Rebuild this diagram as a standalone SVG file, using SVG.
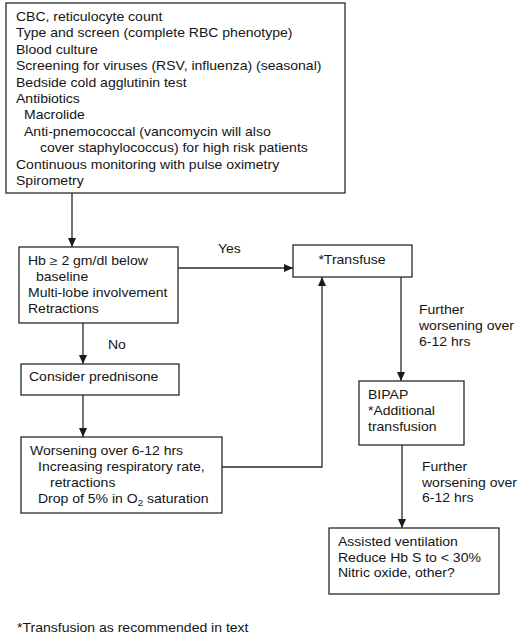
<svg xmlns="http://www.w3.org/2000/svg" width="520" height="639" viewBox="0 0 520 639">
<style>
  .box { fill: #ffffff; stroke: #2a2a2a; stroke-width: 1.3; }
  .t { font-family: "Liberation Sans", Arial, sans-serif; font-size: 12.2px; fill: #151515; }
  .conn { fill: none; stroke: #2a2a2a; stroke-width: 1.3; }
</style>
<defs>
  <marker id="arr" markerUnits="userSpaceOnUse" markerWidth="9" markerHeight="8" refX="9" refY="4" orient="auto">
    <path d="M0,0 L9,4 L0,8 z" fill="#1a1a1a"/>
  </marker>
</defs>
<rect width="520" height="639" fill="#ffffff"/>

<g id="connectors">
  <path class="conn" d="M72 193 V247" marker-end="url(#arr)"/>
  <path class="conn" d="M178 268 H293" marker-end="url(#arr)"/>
  <path class="conn" d="M83 323 V364" marker-end="url(#arr)"/>
  <path class="conn" d="M83 395 V437" marker-end="url(#arr)"/>
  <path class="conn" d="M222 467 H322 V277" marker-end="url(#arr)"/>
  <path class="conn" d="M401 277 V381" marker-end="url(#arr)"/>
  <path class="conn" d="M402 445 V528" marker-end="url(#arr)"/>
  <text class="t" transform="translate(218 253) scale(1.15 1)">Yes</text>
  <text class="t" transform="translate(108 349) scale(1.15 1)">No</text>
  <g id="label-further1">
    <text class="t" transform="translate(419 314) scale(1.15 1)">Further</text>
    <text class="t" transform="translate(419 330) scale(1.15 1)">worsening over</text>
    <text class="t" transform="translate(419 346) scale(1.15 1)">6-12 hrs</text>
  </g>
  <g id="label-further2">
    <text class="t" transform="translate(422 471) scale(1.15 1)">Further</text>
    <text class="t" transform="translate(422 487) scale(1.15 1)">worsening over</text>
    <text class="t" transform="translate(422 502) scale(1.15 1)">6-12 hrs</text>
  </g>
</g>

<g id="initial">
  <rect class="box" x="6" y="3" width="339" height="190"/>
  <text class="t" transform="translate(16 21) scale(1.15 1)">CBC, reticulocyte count</text>
  <text class="t" transform="translate(16 37.4) scale(1.15 1)">Type and screen (complete RBC phenotype)</text>
  <text class="t" transform="translate(16 53.8) scale(1.15 1)">Blood culture</text>
  <text class="t" transform="translate(16 70.2) scale(1.15 1)">Screening for viruses (RSV, influenza) (seasonal)</text>
  <text class="t" transform="translate(16 86.6) scale(1.15 1)">Bedside cold agglutinin test</text>
  <text class="t" transform="translate(16 103) scale(1.15 1)">Antibiotics</text>
  <text class="t" transform="translate(24 119.4) scale(1.15 1)">Macrolide</text>
  <text class="t" transform="translate(24 135.8) scale(1.15 1)">Anti-pnemococcal (vancomycin will also</text>
  <text class="t" transform="translate(40 152.2) scale(1.15 1)">cover staphylococcus) for high risk patients</text>
  <text class="t" transform="translate(16 168.6) scale(1.15 1)">Continuous monitoring with pulse oximetry</text>
  <text class="t" transform="translate(16 185) scale(1.15 1)">Spirometry</text>
</g>

<g id="criteria">
  <rect class="box" x="19" y="247" width="159" height="76"/>
  <text class="t" transform="translate(28 265) scale(1.15 1)">Hb ≥ 2 gm/dl below</text>
  <text class="t" transform="translate(36 281) scale(1.15 1)">baseline</text>
  <text class="t" transform="translate(28 297) scale(1.15 1)">Multi-lobe involvement</text>
  <text class="t" transform="translate(28 313) scale(1.15 1)">Retractions</text>
</g>

<g id="transfuse">
  <rect class="box" x="293" y="245" width="119" height="32"/>
  <text class="t" text-anchor="middle" transform="translate(352 264) scale(1.15 1)">*Transfuse</text>
</g>

<g id="prednisone">
  <rect class="box" x="21" y="364" width="158" height="31"/>
  <text class="t" transform="translate(29 381) scale(1.15 1)">Consider prednisone</text>
</g>

<g id="worsening">
  <rect class="box" x="21" y="437" width="201" height="76"/>
  <text class="t" transform="translate(30 455) scale(1.15 1)">Worsening over 6-12 hrs</text>
  <text class="t" transform="translate(38 471) scale(1.15 1)">Increasing respiratory rate,</text>
  <text class="t" transform="translate(50 487) scale(1.15 1)">retractions</text>
  <text class="t" transform="translate(38 503) scale(1.15 1)">Drop of 5% in O<tspan font-size="8.5" dy="2.5">2</tspan><tspan dy="-2.5"> saturation</tspan></text>
</g>

<g id="bipap">
  <rect class="box" x="359" y="381" width="105" height="64"/>
  <text class="t" transform="translate(368 399) scale(1.15 1)">BIPAP</text>
  <text class="t" transform="translate(368 415) scale(1.15 1)">*Additional</text>
  <text class="t" transform="translate(368 431) scale(1.15 1)">transfusion</text>
</g>

<g id="ventilation">
  <rect class="box" x="329" y="528" width="170" height="66"/>
  <text class="t" transform="translate(338 546) scale(1.15 1)">Assisted ventilation</text>
  <text class="t" transform="translate(338 561.5) scale(1.15 1)">Reduce Hb S to &lt; 30%</text>
  <text class="t" transform="translate(338 577) scale(1.15 1)">Nitric oxide, other?</text>
</g>

<g id="footnote">
  <text class="t" transform="translate(17 632) scale(1.15 1)">*Transfusion as recommended in text</text>
</g>
</svg>
